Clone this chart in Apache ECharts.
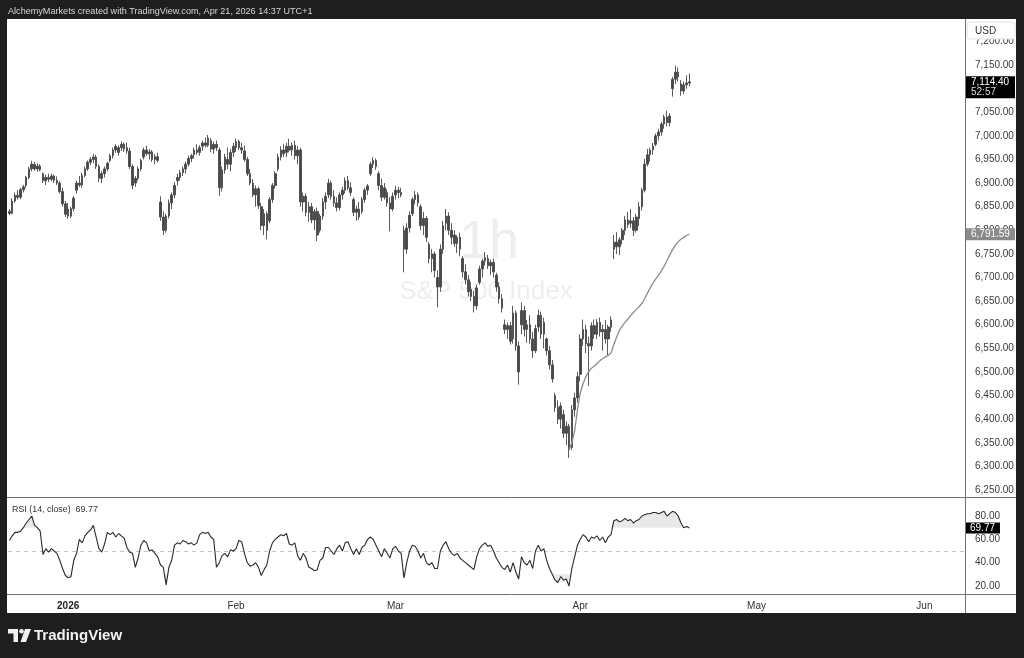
<!DOCTYPE html>
<html><head><meta charset="utf-8">
<script src="https://cdn.jsdelivr.net/npm/echarts@6/dist/echarts.min.js"></script>
<style>html,body{margin:0;padding:0;background:#1e1e1e;}#c{width:1024px;height:658px;}</style>
</head><body><div id="c"></div>
<script>
// ---------- DATA ----------
const barsPerDay = 3;
const dayCount = 114; // trading days shown (Dec 22 2025 .. early Jun 2026)
const monthTicks = [[7, '2026'], [27, 'Feb'], [46, 'Mar'], [68, 'Apr'], [89, 'May'], [109, 'Jun']];
const priceMin = 6250, priceMax = 7250, priceStep = 50;
const rsiLevels = [20, 40, 60, 80];
// S&P 500 1h, resampled to 3 bars per session: [open, high, low, close]
const ohlc = [
 [6840,6845,6832,6836],[6836,6868,6834,6862],[6862,6880,6858,6874], // Dec 22
 [6874,6885,6865,6870],[6870,6890,6866,6886],[6886,6896,6880,6892],
 [6895,6915,6890,6912],[6912,6935,6908,6930],[6930,6947,6925,6940],
 [6940,6945,6926,6930],[6930,6942,6924,6936],[6936,6940,6925,6928],
 [6920,6922,6900,6905],[6905,6918,6896,6912],[6912,6920,6902,6908],
 [6908,6920,6904,6915],[6915,6918,6900,6906],[6906,6914,6896,6900],
 [6900,6904,6878,6882],[6882,6890,6850,6856],[6856,6862,6828,6834],
 [6845,6858,6824,6830],[6830,6850,6826,6846],[6846,6872,6840,6868], // Jan 2
 [6885,6905,6878,6900],[6900,6915,6892,6896],[6896,6922,6890,6916],
 [6916,6935,6912,6930],[6930,6948,6926,6944],[6944,6955,6938,6950],
 [6950,6962,6942,6955],[6955,6960,6930,6935],[6935,6940,6902,6910],
 [6910,6925,6900,6920],[6920,6935,6912,6930],[6930,6945,6925,6942],
 [6948,6962,6944,6958],[6958,6975,6952,6970],[6970,6982,6964,6978],
 [6965,6980,6958,6975],[6975,6988,6968,6982],[6982,6986,6966,6972],
 [6975,6986,6962,6968],[6968,6975,6930,6935],[6935,6940,6887,6895],
 [6900,6915,6892,6910],[6910,6935,6905,6930],[6930,6952,6925,6948],
 [6955,6975,6950,6970],[6970,6979,6958,6962],[6962,6972,6950,6966],
 [6966,6970,6945,6950],[6950,6962,6940,6956],[6956,6964,6944,6948],
 [6860,6872,6820,6828],[6828,6840,6790,6800],[6800,6835,6795,6830], // Jan 20
 [6830,6865,6825,6858],[6858,6880,6845,6875],[6875,6902,6868,6895],
 [6905,6920,6895,6912],[6912,6928,6905,6922],[6922,6935,6915,6930],
 [6930,6945,6920,6940],[6940,6958,6935,6952],[6952,6962,6944,6958],
 [6960,6975,6952,6970],[6970,6982,6960,6965],[6965,6980,6958,6975],
 [6978,6990,6968,6985],[6985,6996,6975,6980],[6980,7002,6976,6995],
 [6990,6995,6965,6972],[6972,6988,6962,6982],[6982,6990,6968,6975],
 [6970,6975,6873,6890],[6890,6935,6882,6928],[6928,6962,6920,6955],
 [6950,6975,6930,6940],[6940,6972,6925,6965],[6965,6985,6955,6978],
 [6975,6994,6966,6988],[6988,6992,6970,6975],[6975,6985,6962,6970], // Feb 2
 [6968,6980,6945,6950],[6950,6955,6915,6920],[6920,6930,6895,6900],
 [6900,6908,6870,6875],[6875,6895,6850,6888],[6888,6892,6845,6852],
 [6850,6858,6800,6810],[6810,6845,6790,6835],[6835,6840,6781,6800],
 [6820,6870,6815,6865],[6865,6900,6858,6895],[6895,6925,6888,6920],
 [6930,6962,6925,6955],[6955,6978,6948,6970],[6970,6982,6955,6962],
 [6965,6985,6955,6978],[6978,6994,6965,6970],[6970,6986,6958,6980],
 [6980,6990,6950,6958],[6958,6978,6940,6970],[6970,6975,6850,6860],
 [6860,6880,6840,6872],[6872,6878,6830,6838],[6838,6860,6818,6850],
 [6850,6858,6815,6822],[6822,6845,6800,6840],[6840,6848,6777,6790],
 [6800,6835,6795,6830],[6830,6868,6822,6860],[6860,6880,6845,6872], // Feb 17
 [6875,6909,6868,6900],[6900,6905,6865,6872],[6872,6885,6850,6858],
 [6858,6870,6840,6848],[6848,6880,6842,6875],[6875,6892,6865,6885],
 [6885,6912,6878,6905],[6905,6915,6885,6890],[6890,6902,6873,6880],
 [6865,6870,6830,6838],[6838,6852,6820,6845],[6845,6860,6822,6828],
 [6840,6870,6835,6865],[6865,6890,6858,6885],[6885,6898,6875,6894],
 [6920,6945,6915,6940],[6940,6955,6932,6948],[6948,6952,6928,6935],
 [6920,6925,6885,6895],[6895,6909,6862,6870],[6870,6900,6865,6890],
 [6880,6887,6850,6858],[6858,6870,6798,6845],[6845,6880,6840,6872],
 [6875,6894,6865,6885],[6885,6892,6868,6880],[6880,6890,6870,6875], // Mar 2
 [6800,6810,6711,6760],[6760,6815,6750,6805],[6805,6840,6795,6832],
 [6835,6870,6830,6865],[6865,6883,6855,6875],[6875,6880,6850,6858],
 [6850,6855,6800,6810],[6810,6839,6790,6825],[6825,6830,6775,6785],
 [6770,6775,6730,6740],[6740,6760,6711,6750],[6750,6755,6700,6715],
 [6700,6715,6637,6680],[6680,6770,6670,6760],[6760,6820,6750,6810],
 [6815,6845,6800,6830],[6830,6838,6790,6800],[6800,6815,6770,6785],
 [6790,6800,6765,6772],[6772,6790,6752,6785],[6785,6795,6745,6760],
 [6740,6745,6700,6712],[6712,6728,6685,6695],[6695,6705,6660,6670],
 [6675,6690,6650,6660],[6660,6672,6626,6640],[6640,6685,6632,6678],
 [6690,6725,6685,6718],[6718,6740,6700,6735],[6735,6754,6725,6742], // Mar 16
 [6740,6748,6718,6725],[6725,6738,6705,6732],[6732,6740,6700,6712],
 [6705,6710,6670,6680],[6680,6690,6645,6655],[6655,6665,6626,6635],
 [6600,6611,6580,6590],[6590,6605,6570,6598],[6598,6606,6558,6565],
 [6570,6640,6560,6625],[6625,6630,6545,6555],[6555,6565,6473,6500],
 [6600,6647,6580,6630],[6630,6640,6575,6590],[6590,6610,6562,6600],
 [6600,6620,6560,6570],[6570,6585,6530,6545],[6545,6600,6540,6592],
 [6595,6632,6585,6620],[6620,6628,6570,6580],[6580,6615,6550,6605],
 [6570,6573,6535,6545],[6545,6555,6505,6515],[6515,6525,6477,6485],
 [6450,6456,6415,6425],[6425,6440,6390,6400],[6400,6435,6380,6428],
 [6410,6420,6360,6370],[6370,6395,6345,6385],[6385,6390,6318,6335], // Mar 30
 [6340,6430,6335,6420],[6420,6456,6405,6445],[6445,6500,6435,6490],
 [6495,6580,6480,6570],[6570,6611,6555,6590],[6590,6600,6540,6560], // Apr 1
 [6560,6575,6470,6555],[6555,6605,6545,6598],[6598,6611,6570,6580],
 [6580,6612,6570,6605],[6605,6615,6575,6585],[6585,6600,6545,6590],
 [6590,6610,6560,6570],[6570,6600,6535,6595],[6595,6618,6585,6610],
 [6760,6790,6739,6775],[6775,6796,6750,6765],[6765,6785,6748,6780], // Apr 8
 [6780,6805,6770,6800],[6800,6830,6790,6822],[6822,6839,6805,6812],
 [6815,6845,6805,6820],[6820,6828,6788,6800],[6800,6835,6795,6828],
 [6825,6860,6809,6850],[6850,6890,6842,6885],[6885,6951,6880,6940],
 [6940,6972,6935,6960],[6960,6975,6945,6970],[6970,6985,6960,6978],
 [6982,7005,6978,7000],[7000,7015,6990,7008],[7008,7030,7000,7025],
 [7025,7045,7015,7040],[7040,7053,7020,7028],[7028,7048,7020,7042],
 [7100,7125,7083,7120],[7120,7149,7110,7135],[7135,7145,7115,7125], // Apr 17
 [7110,7118,7085,7095],[7095,7115,7088,7108],[7108,7128,7100,7112],
 [7112,7132,7105,7114.40]                                            // Apr 21
];
// anchored VWAP from the March 30 low (starts at bar index vwapStart)
const vwapStart = 200;
const vwap = [6335,6350,6375,6420,6455,6475,6490,6500,6508,6512,6518,6524,6528,6532,6535,6540,
 6558,6574,6588,6597,6605,6612,6619,6626,6632,6638,6645,6655,6667,6678,6688,6697,6705,6714,
 6724,6736,6748,6759,6768,6776,6781,6785,6789,6791.59];
// RSI(14, close), one value per bar
const rsi = [
 59,63,66, 66,67,70, 74,77,80, 72,70,67, 47,52,49, 52,50,48, 42,35,29,
 27,28,42, 48,60,57, 63,66,68, 72,62,52, 49,56,66, 64,66,62, 65,63,61,
 53,49,48, 36,44,55, 59,57,50, 51,48,45, 38,36,21, 36,42,55, 57,56,59,
 58,56,57, 55,57,64, 66,65,66, 62,60,36, 40,46,48, 45,51,50, 52,59,58,
 48,40,37, 38,40,36, 29,34,38, 50,57,60, 62,64,63, 65,56,55, 57,46,42,
 48,44,36, 35,33,34, 42,44,53, 53,50,47, 52,55,50, 57,58,52, 47,52,47,
 53,55,60, 62,60,55, 50,45,52, 48,44,52, 54,50,48, 27,40,50, 55,54,50,
 44,48,40, 38,40,35, 35,50,55, 58,52,48, 46,48,44, 42,40,38, 36,34,45,
 52,55,57, 54,55,50, 44,40,36, 34,38,32, 40,32,26, 45,40,38, 42,35,50,
 55,50,52, 42,35,30, 25,23,28, 25,26,20, 35,45,55, 60,64,62, 58,62,61,
 63,59,62, 57,62,64, 76,77,75, 76,78,76, 77,74,76, 77,80,81, 82,82,83,
 83,82,83, 84,80,82, 84,83,80, 74,70,71, 69.77
];
const lastPrice = 7114.40, countdown = '52:57';

// ---------- BUILD ----------
const FONT = 'Liberation Sans, Arial, sans-serif';
const slotCount = dayCount * barsPerDay;
const cats = Array.from({length: slotCount}, (_, i) => String(i));
const tickMap = {};
monthTicks.forEach(([d, l]) => { tickMap[d * barsPerDay] = l; });
const candles = ohlc.map(b => [b[0], b[3], b[2], b[1]]);
const vwapData = new Array(vwapStart).fill('-').concat(vwap);
const obBase = rsi.map(() => 70);
const obFill = rsi.map(v => Math.max(v - 70, 0));
const osBase = rsi.map(v => Math.min(v, 30));
const osFill = rsi.map(v => 30 - Math.min(v, 30));
const fmtPrice = v => v.toLocaleString('en-US', {minimumFractionDigits: 2, maximumFractionDigits: 2});

const chart = echarts.init(document.getElementById('c'), null, {renderer: 'canvas'});
const barColor = '#484848';
const hiddenAxis = {axisLine: {show: false}, axisTick: {show: false}, axisLabel: {show: false}, splitLine: {show: false}};

const option = {
  animation: false,
  backgroundColor: '#1e1e1e',
  grid: [
    {left: 8, right: 59, top: 17.8, height: 472.2},
    {left: 8, right: 59, top: 492.7, height: 116.6},
    {left: 8, right: 59, top: 596, height: 2}
  ],
  xAxis: [
    Object.assign({type: 'category', gridIndex: 0, data: cats, boundaryGap: true}, hiddenAxis),
    Object.assign({type: 'category', gridIndex: 1, data: cats, boundaryGap: true}, hiddenAxis),
    {type: 'category', gridIndex: 2, data: cats, boundaryGap: true,
     axisLine: {show: false}, axisTick: {show: false}, splitLine: {show: false},
     axisLabel: {interval: 0, margin: 3, color: '#333', fontSize: 10, fontFamily: FONT,
       formatter: (v, i) => tickMap[i] ? (tickMap[i] === '2026' ? '{b|2026}' : tickMap[i]) : '',
       rich: {b: {fontWeight: 'bold', fontSize: 10, color: '#222', fontFamily: FONT}}}}
  ],
  yAxis: [
    {type: 'value', gridIndex: 0, position: 'right', min: priceMin, max: priceMax, interval: priceStep,
     axisLine: {show: false}, axisTick: {show: false}, splitLine: {show: false},
     axisLabel: {margin: 10, color: '#3a3a3a', fontSize: 10, fontFamily: FONT,
       formatter: v => v >= priceMax ? '' : fmtPrice(v)}},
    {type: 'value', gridIndex: 1, position: 'right', min: 0, max: 100, interval: 20,
     axisLine: {show: false}, axisTick: {show: false}, splitLine: {show: false},
     axisLabel: {margin: 10, color: '#3a3a3a', fontSize: 10, fontFamily: FONT,
       formatter: v => rsiLevels.indexOf(v) >= 0 ? v.toFixed(2) : ''}},
    Object.assign({type: 'value', gridIndex: 2}, hiddenAxis)
  ],
  series: [
    {type: 'candlestick', xAxisIndex: 0, yAxisIndex: 0, data: candles, barWidth: 2.1, z: 3,
     itemStyle: {color: barColor, color0: barColor, borderColor: barColor, borderColor0: barColor, borderWidth: 0.9}},
    {type: 'line', xAxisIndex: 0, yAxisIndex: 0, data: vwapData, showSymbol: false, z: 4,
     lineStyle: {color: '#8c8c8c', width: 1.3}},
    {type: 'line', xAxisIndex: 1, yAxisIndex: 1, data: obBase, stack: 'ob', showSymbol: false,
     lineStyle: {width: 0, opacity: 0}, silent: true},
    {type: 'line', xAxisIndex: 1, yAxisIndex: 1, data: obFill, stack: 'ob', showSymbol: false,
     lineStyle: {width: 0, opacity: 0}, areaStyle: {color: 'rgba(0,0,0,0.13)'}, silent: true},
    {type: 'line', xAxisIndex: 1, yAxisIndex: 1, data: osBase, stack: 'os', showSymbol: false,
     lineStyle: {width: 0, opacity: 0}, silent: true},
    {type: 'line', xAxisIndex: 1, yAxisIndex: 1, data: osFill, stack: 'os', showSymbol: false,
     lineStyle: {width: 0, opacity: 0}, areaStyle: {color: 'rgba(0,0,0,0.13)'}, silent: true},
    {type: 'line', xAxisIndex: 1, yAxisIndex: 1, data: rsi, showSymbol: false, z: 5,
     lineStyle: {color: '#2a2a2a', width: 1.1},
     markLine: {symbol: 'none', silent: true, label: {show: false},
       lineStyle: {type: [4, 4], color: '#c4c4c4', width: 1}, data: [{yAxis: 50}]}}
  ],
  graphic: [
    {type: 'rect', z: -20, shape: {x: 7, y: 19, width: 1009, height: 594}, style: {fill: '#ffffff'}},
    {type: 'text', z: -10, style: {x: 489, y: 243, text: '1h', fill: '#eeeeee', font: '54px ' + FONT, align: 'center', verticalAlign: 'middle'}},
    {type: 'text', z: -10, style: {x: 486, y: 292, text: 'S&P 500 Index', fill: '#eeeeee', font: '26px ' + FONT, align: 'center', verticalAlign: 'middle'}},
    {type: 'line', z: 10, shape: {x1: 7, y1: 497.5, x2: 1016, y2: 497.5}, style: {stroke: '#707070', lineWidth: 1}},
    {type: 'line', z: 10, shape: {x1: 7, y1: 594.5, x2: 1016, y2: 594.5}, style: {stroke: '#707070', lineWidth: 1}},
    {type: 'line', z: 10, shape: {x1: 965.5, y1: 19, x2: 965.5, y2: 613}, style: {stroke: '#707070', lineWidth: 1}},
    {type: 'text', z: 10, style: {x: 8, y: 11, text: 'AlchemyMarkets created with TradingView.com, Apr 21, 2026 14:37 UTC+1', fill: '#d6d6d6', font: '9.1px ' + FONT, verticalAlign: 'middle'}},
    {type: 'text', z: 10, style: {x: 12, y: 510, text: 'RSI (14, close)  69.77', fill: '#333', font: '8.9px ' + FONT, verticalAlign: 'middle'}},
    {type: 'rect', z: 20, shape: {x: 967, y: 22, width: 48, height: 17, r: 3}, style: {fill: '#ffffff', stroke: '#e2e2e2', lineWidth: 1}},
    {type: 'text', z: 21, style: {x: 975, y: 31, text: 'USD', fill: '#333', font: '10px ' + FONT, verticalAlign: 'middle'}},
    // TradingView logo
    {type: 'polygon', z: 10, shape: {points: [[8,629],[18,629],[18,642],[13.5,642],[13.5,633.5],[8,633.5]]}, style: {fill: '#f2f2f2'}},
    {type: 'circle', z: 10, shape: {cx: 21.5, cy: 631.3, r: 2.3}, style: {fill: '#f2f2f2'}},
    {type: 'polygon', z: 10, shape: {points: [[25,629],[31,629],[26,642],[20.5,642]]}, style: {fill: '#f2f2f2'}},
    {type: 'text', z: 10, style: {x: 34, y: 636, text: 'TradingView', fill: '#f2f2f2', font: 'bold 15px ' + FONT, verticalAlign: 'middle'}}
  ]
};
chart.setOption(option);

// price-scale value badges, placed through the axes
const yLast = chart.convertToPixel({yAxisIndex: 0}, lastPrice);
const yVwap = chart.convertToPixel({yAxisIndex: 0}, vwap[vwap.length - 1]);
const yRsi = chart.convertToPixel({yAxisIndex: 1}, rsi[rsi.length - 1]);
chart.setOption({graphic: option.graphic.concat([
  {type: 'rect', z: 30, shape: {x: 966, y: yVwap - 6, width: 49, height: 12}, style: {fill: '#8a8a8a'}},
  {type: 'text', z: 31, style: {x: 971, y: yVwap, text: fmtPrice(vwap[vwap.length - 1]), fill: '#fff', font: '10px ' + FONT, verticalAlign: 'middle'}},
  {type: 'rect', z: 30, shape: {x: 966, y: yLast - 5.5, width: 49, height: 22}, style: {fill: '#000'}},
  {type: 'text', z: 31, style: {x: 971, y: yLast, text: fmtPrice(lastPrice), fill: '#fff', font: '10px ' + FONT, verticalAlign: 'middle'}},
  {type: 'text', z: 31, style: {x: 971, y: yLast + 10.5, text: countdown, fill: '#d8d8d8', font: '10px ' + FONT, verticalAlign: 'middle'}},
  {type: 'rect', z: 30, shape: {x: 966, y: yRsi - 5.5, width: 34, height: 11}, style: {fill: '#000'}},
  {type: 'text', z: 31, style: {x: 970, y: yRsi, text: rsi[rsi.length - 1].toFixed(2), fill: '#fff', font: '10px ' + FONT, verticalAlign: 'middle'}}
])});
</script></body></html>
